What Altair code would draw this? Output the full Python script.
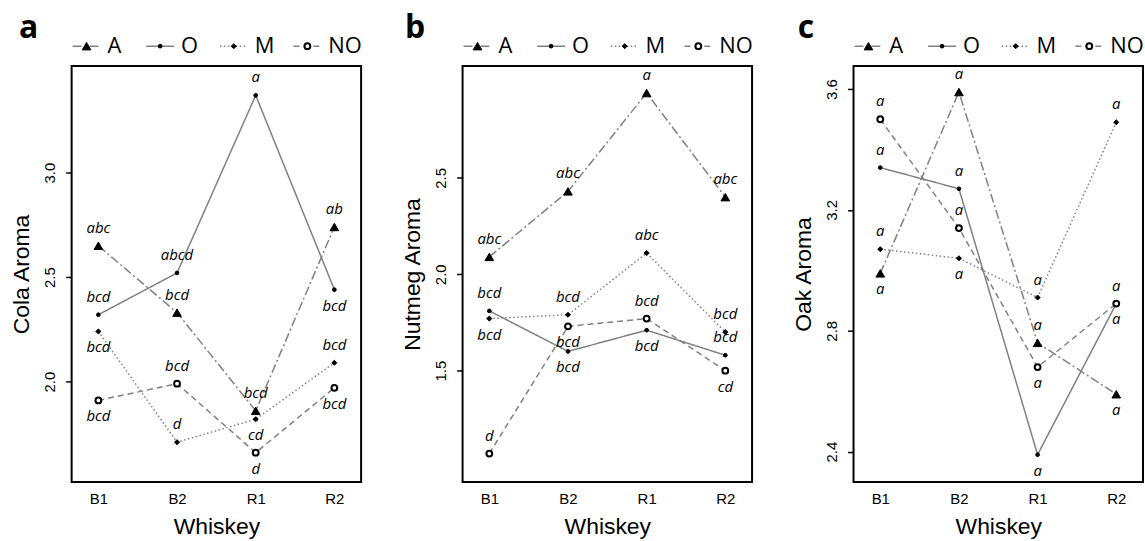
import altair as alt
import pandas as pd

whiskeys = ["B1", "B2", "R1", "R2"]
series = ["A", "O", "M", "NO"]

# Panel a: Cola Aroma
cola_A = [2.65, 2.33, 1.86, 2.74]
cola_O = [2.32, 2.52, 3.37, 2.44]
cola_M = [2.24, 1.71, 1.82, 2.09]
cola_NO = [1.91, 1.99, 1.66, 1.97]
cola_A_let = ["abc", "bcd", "bcd", "ab"]
cola_O_let = ["bcd", "abcd", "a", "bcd"]
cola_M_let = ["bcd", "d", "cd", "bcd"]
cola_NO_let = ["bcd", "bcd", "d", "bcd"]

# Panel b: Nutmeg Aroma
nut_A = [2.09, 2.43, 2.94, 2.40]
nut_O = [1.81, 1.60, 1.71, 1.58]
nut_M = [1.77, 1.79, 2.11, 1.70]
nut_NO = [1.07, 1.73, 1.77, 1.50]
nut_A_let = ["abc", "abc", "a", "abc"]
nut_O_let = ["bcd", "bcd", "bcd", "bcd"]
nut_M_let = ["bcd", "bcd", "abc", "bcd"]
nut_NO_let = ["d", "bcd", "bcd", "cd"]

# Panel c: Oak Aroma
oak_A = [2.99, 3.59, 2.76, 2.59]
oak_O = [3.34, 3.27, 2.39, 2.89]
oak_M = [3.07, 3.04, 2.91, 3.49]
oak_NO = [3.50, 3.14, 2.68, 2.89]
oak_A_let = ["a", "a", "a", "a"]
oak_O_let = ["a", "a", "a", "a"]
oak_M_let = ["a", "a", "a", "a"]
oak_NO_let = ["a", "a", "a", "a"]

# label placement relative to the point (up / down)
cola_A_side = ["up", "up", "up", "up"]
cola_O_side = ["up", "up", "up", "down"]
cola_M_side = ["down", "up", "down", "up"]
cola_NO_side = ["down", "up", "down", "down"]
nut_A_side = ["up", "up", "up", "up"]
nut_O_side = ["up", "down", "down", "up"]
nut_M_side = ["down", "up", "up", "up"]
nut_NO_side = ["up", "down", "up", "down"]
oak_A_side = ["down", "up", "up", "down"]
oak_O_side = ["up", "up", "down", "down"]
oak_M_side = ["up", "down", "up", "up"]
oak_NO_side = ["up", "up", "down", "up"]

GRAY = "#808080"
AXFONT = "Liberation Sans"
TXFONT = "Open Sans"


def build_df(vals, lets, sides):
    rows = []
    for s, v, l, sd in zip(series, vals, lets, sides):
        for w, vv, ll, ss in zip(whiskeys, v, l, sd):
            rows.append({"whiskey": w, "series": s, "value": vv, "label": ll, "side": ss})
    return pd.DataFrame(rows)


dash_scale = alt.Scale(domain=series, range=[[9, 3, 2, 3], [1, 0], [1.5, 2.5], [6, 4]])
shape_scale = alt.Scale(domain=series, range=["triangle-up", "circle", "diamond", "circle"])
fill_scale = alt.Scale(domain=series, range=["black", "black", "black", "white"])
size_scale = alt.Scale(type="ordinal", domain=series, range=[75, 14, 26, 34])
sw_scale = alt.Scale(type="ordinal", domain=series, range=[1, 1, 1, 2])


def panel(df, letter, ytitle, domain, ticks, title_dx):
    x = alt.X(
        "whiskey:N",
        sort=whiskeys,
        scale=alt.Scale(type="point", domain=whiskeys, padding=0.34),
        axis=alt.Axis(
            title="Whiskey", labelAngle=0, ticks=False, domain=False,
            labelPadding=10, titlePadding=9, labelFontSize=15, titleFontSize=23,
            titleFontWeight="normal", labelFont=AXFONT, titleFont=AXFONT,
            labelColor="black", titleColor="black",
        ),
    )
    y = alt.Y(
        "value:Q",
        scale=alt.Scale(domain=domain, nice=False, zero=False),
        axis=alt.Axis(
            title=ytitle, values=ticks, format=".1f", labelAngle=270, grid=False,
            domain=False, tickSize=6, tickColor="black", tickWidth=1.5,
            labelFontSize=15, labelPadding=8, titleFontSize=23, titlePadding=9,
            titleFontWeight="normal", labelFont=AXFONT, titleFont=AXFONT,
            labelColor="black", titleColor="black",
        ),
    )
    base = alt.Chart(df)
    lines = base.mark_line(color=GRAY, strokeWidth=1.5).encode(
        x=x, y=y, detail="series:N",
        strokeDash=alt.StrokeDash("series:N", scale=dash_scale, legend=None),
    )
    enc_pts = dict(
        shape=alt.Shape("series:N", scale=shape_scale, legend=None),
        fill=alt.Fill("series:N", scale=fill_scale, legend=None),
        size=alt.Size("series:N", scale=size_scale, legend=None),
        strokeWidth=alt.StrokeWidth("series:N", scale=sw_scale, legend=None),
    )
    pts = base.mark_point(filled=True, stroke="black", opacity=1).encode(x=x, y=y, **enc_pts)
    up = base.transform_filter(alt.datum.side == "up").mark_text(
        font=TXFONT, fontStyle="italic", fontSize=15, dy=-18, baseline="middle", color="black"
    ).encode(x=x, y=y, text="label:N")
    down = base.transform_filter(alt.datum.side == "down").mark_text(
        font=TXFONT, fontStyle="italic", fontSize=15, dy=16, baseline="middle", color="black"
    ).encode(x=x, y=y, text="label:N")
    data_layer = alt.layer(lines, pts, up, down)

    leg_df = pd.DataFrame({"series": series})
    lx = alt.X("series:N", sort=series,
               scale=alt.Scale(type="point", domain=series, range=[15, 237], padding=0),
               axis=None)
    lbase = alt.Chart(leg_df)
    lseg = lbase.mark_point(shape="M-1,0L1,0", filled=False, size=784, color=GRAY,
                            strokeWidth=1.5, opacity=1).encode(
        x=lx, y=alt.value(-20),
        strokeDash=alt.StrokeDash("series:N", scale=dash_scale, legend=None),
    )
    lpts = lbase.mark_point(filled=True, stroke="black", opacity=1).encode(
        x=lx, y=alt.value(-20), **enc_pts)
    ltxt = lbase.mark_text(align="left", dx=21, baseline="middle", fontSize=22,
                           font=TXFONT, color="black").encode(
        x=lx, y=alt.value(-20), text="series:N")
    leg_layer = alt.layer(lseg, lpts, ltxt)

    return alt.layer(data_layer, leg_layer).resolve_scale(x="independent").properties(
        width=291, height=418,
        title=alt.TitleParams(letter, anchor="start", frame="group", dx=title_dx,
                              fontSize=32, fontWeight="bold", font=TXFONT,
                              color="black", offset=-10),
    )


pa = panel(build_df([cola_A, cola_O, cola_M, cola_NO],
                    [cola_A_let, cola_O_let, cola_M_let, cola_NO_let],
                    [cola_A_side, cola_O_side, cola_M_side, cola_NO_side]),
           "a", "Cola Aroma", [1.52, 3.51], [2.0, 2.5, 3.0], -53)
pb = panel(build_df([nut_A, nut_O, nut_M, nut_NO],
                    [nut_A_let, nut_O_let, nut_M_let, nut_NO_let],
                    [nut_A_side, nut_O_side, nut_M_side, nut_NO_side]),
           "b", "Nutmeg Aroma", [0.923, 3.08], [1.5, 2.0, 2.5], -58)
pc = panel(build_df([oak_A, oak_O, oak_M, oak_NO],
                    [oak_A_let, oak_O_let, oak_M_let, oak_NO_let],
                    [oak_A_side, oak_O_side, oak_M_side, oak_NO_side]),
           "c", "Oak Aroma", [2.30, 3.676], [2.4, 2.8, 3.2, 3.6], -56)

chart = alt.hconcat(pa, pb, pc, spacing=38).properties(
    padding={"left": 10, "top": 10, "right": 0, "bottom": 0}
).configure_view(stroke="black", strokeWidth=2)

chart.save("out.html", embed_options={"renderer": "svg", "actions": False})
